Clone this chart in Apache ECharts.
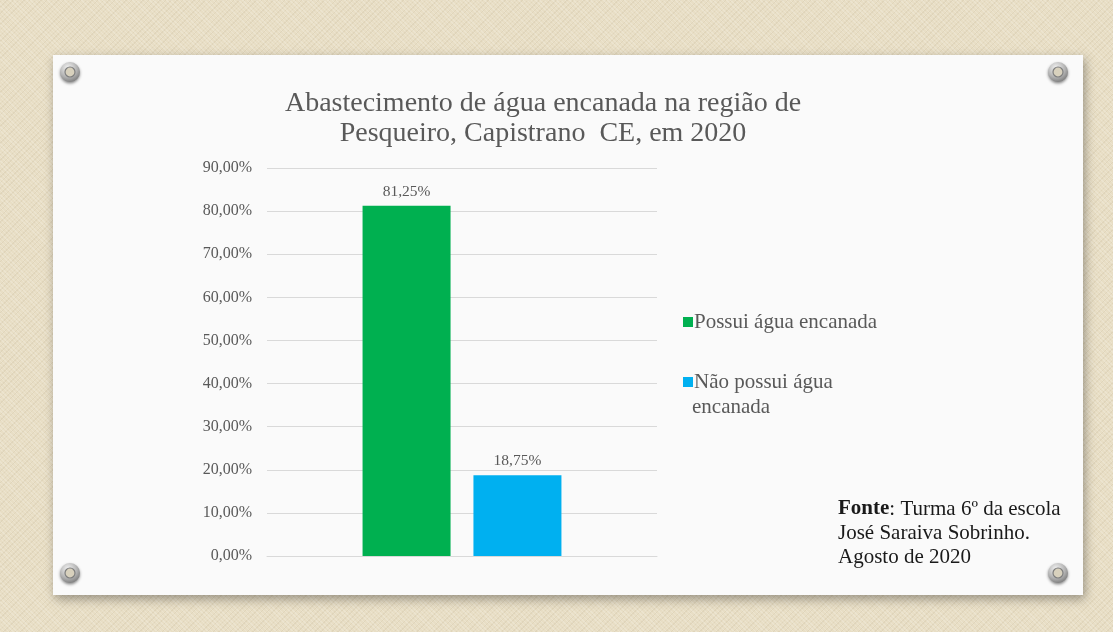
<!DOCTYPE html>
<html>
<head>
<meta charset="utf-8">
<script src="https://cdn.jsdelivr.net/npm/echarts@6/dist/echarts.min.js"></script>
<style>
html,body{margin:0;padding:0;width:1113px;height:632px;overflow:hidden;}
body{
  background-color:#E8DEC5;
  background-image:
    repeating-linear-gradient(45deg, rgba(255,255,255,0.18) 0px, rgba(255,255,255,0.18) 1px, transparent 1px, transparent 3px),
    repeating-linear-gradient(-45deg, rgba(150,130,90,0.10) 0px, rgba(150,130,90,0.10) 1px, transparent 1px, transparent 4px);
}
#chart{width:1113px;height:632px;}
</style>
</head>
<body>
<div id="chart"></div>
<script>
const titleLines = ['Abastecimento de água encanada na região de', 'Pesqueiro, Capistrano  CE, em 2020'];
const categories = [''];
const seriesNames = ['Possui água encanada', 'Não possui água encanada'];
const possuiValues = [81.25];
const naoPossuiValues = [18.75];
const seriesColors = ['#00B050', '#00B0F0'];
const yMin = 0, yMax = 90, yInterval = 10;
const sourceLines = ['Turma 6º da escola', 'José Saraiva Sobrinho.', 'Agosto de 2020'];

const fmt = v => v.toFixed(2).replace('.', ',') + '%';
const serif = '"Liberation Serif", "DejaVu Serif", serif';

function screw(cx, cy) {
  return {
    type: 'group', x: cx, y: cy, silent: true,
    children: [
      { type: 'circle', shape: { cx: 0, cy: 0, r: 10 },
        style: { fill: { type: 'radial', x: 0.4, y: 0.3, r: 0.85,
          colorStops: [{ offset: 0, color: '#f4f4f4' }, { offset: 0.55, color: '#b0b0b0' }, { offset: 1, color: '#666' }] },
          shadowBlur: 3, shadowColor: 'rgba(0,0,0,0.45)', shadowOffsetY: 1.5 } },
      { type: 'circle', shape: { cx: 0, cy: 0, r: 5 },
        style: { fill: '#d8d1bd', stroke: '#7f7f7f', lineWidth: 1.2 } }
    ]
  };
}

const chart = echarts.init(document.getElementById('chart'));
chart.setOption({
  animation: false,
  backgroundColor: 'transparent',
  title: {
    text: titleLines.join('\n'),
    left: 538, top: 84, textAlign: 'center',
    textStyle: { fontFamily: serif, fontSize: 28, fontWeight: 'normal', color: '#595959', lineHeight: 30 }
  },
  legend: {
    orient: 'vertical', left: 678, top: 305,
    itemWidth: 10, itemHeight: 10, itemGap: 36,
    icon: 'rect',
    data: seriesNames,
    formatter: n => n === seriesNames[1] ? 'Não possui água' : n,
    textStyle: { fontFamily: serif, fontSize: 21, color: '#595959', lineHeight: 24, padding: [0, 0, 0, -4] }
  },
  grid: { left: 267, right: 456, top: 168, bottom: 76 },
  xAxis: {
    type: 'category', data: categories,
    axisLine: { show: true, lineStyle: { color: '#d9d9d9' } },
    axisTick: { show: false }, axisLabel: { show: false }
  },
  yAxis: {
    type: 'value', min: yMin, max: yMax, interval: yInterval,
    axisLine: { show: false }, axisTick: { show: false },
    splitLine: { lineStyle: { color: '#d9d9d9' } },
    axisLabel: { formatter: v => fmt(v), fontFamily: serif, fontSize: 16, color: '#595959', margin: 15 }
  },
  series: [
    { name: seriesNames[0], type: 'bar', data: possuiValues, barWidth: 88, barGap: '26%',
      itemStyle: { color: seriesColors[0] },
      label: { show: true, position: 'top', formatter: p => fmt(p.value), fontFamily: serif, fontSize: 15.5, color: '#595959', distance: 6 } },
    { name: seriesNames[1], type: 'bar', data: naoPossuiValues, barWidth: 88,
      itemStyle: { color: seriesColors[1] },
      label: { show: true, position: 'top', formatter: p => fmt(p.value), fontFamily: serif, fontSize: 15.5, color: '#595959', distance: 6 } }
  ],
  graphic: [
    { type: 'rect', z: -10, silent: true, shape: { x: 53, y: 55, width: 1030, height: 540 },
      style: { fill: '#FAFAFA', shadowBlur: 10, shadowColor: 'rgba(0,0,0,0.35)', shadowOffsetX: 2, shadowOffsetY: 4 } },
    screw(70, 72), screw(1058, 72), screw(70, 573), screw(1058, 573),
    { type: 'text', left: 692, top: 397, silent: true,
      style: { text: 'encanada', fontFamily: serif, fontSize: 21, fill: '#595959' } },
    { type: 'text', left: 838, top: 497, silent: true,
      style: {
        text: '{b|Fonte}: ' + sourceLines.join('\n'),
        fontFamily: serif, fontSize: 21, fill: '#1a1a1a', lineHeight: 24,
        rich: { b: { fontFamily: serif, fontSize: 21, fontWeight: 'bold', fill: '#1a1a1a', lineHeight: 24 } }
      } }
  ]
});
</script>
</body>
</html>
